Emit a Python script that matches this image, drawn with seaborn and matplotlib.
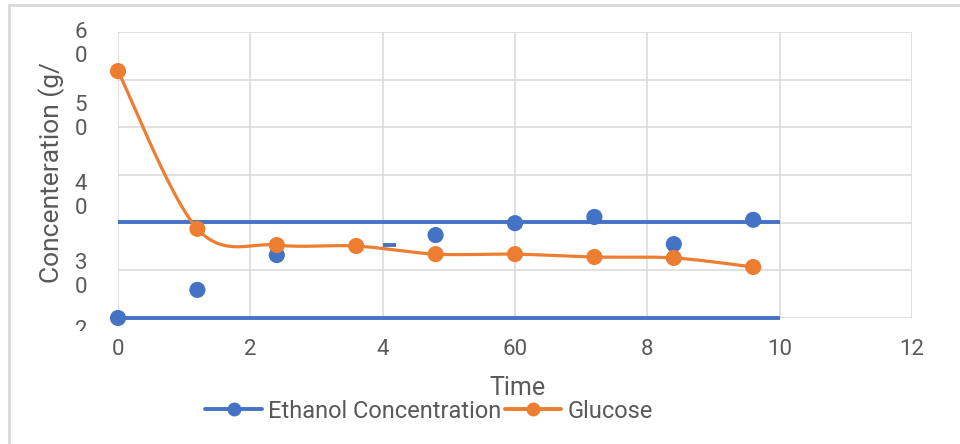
import numpy as np
import matplotlib
matplotlib.use("Agg")
import matplotlib.pyplot as plt
import seaborn as sns
from matplotlib.patches import Rectangle
from matplotlib.transforms import Bbox, TransformedBbox, blended_transform_factory
from matplotlib.lines import Line2D

# ---- data ----
time = [0, 1.2, 2.4, 3.6, 4.8, 6.0, 7.2, 8.4, 9.6]
glucose = [51.8, 18.7, 15.3, 15.1, 13.4, 13.4, 12.8, 12.6, 10.7]
ethanol_time = [0, 1.2, 2.4, 4.8, 6.0, 7.2, 8.4, 9.6]
ethanol = [0, 5.9, 13.2, 17.4, 19.9, 21.2, 15.5, 20.6]
ethanol_line_levels = [20.1, 0]
ethanol_line_span = [0, 10]
ethanol_dash_x = [4.0, 4.2]
ethanol_dash_y = [15.3, 15.3]
x_ticks = [0, 2, 4, 6, 8, 10, 12]
x_tick_labels = ["0", "2", "4", "60", "8", "10", "12"]
y_tick_labels = ["60", "50", "40", "30", "20"]
series_names = ["Ethanol Concentration", "Glucose"]

BLUE = "#4472C4"
ORANGE = "#ED7D31"
GREY = "#595959"
GRID = "#d9d9d9"

sns.set_theme(style="white")
plt.rcParams["font.family"] = ["Roboto", "DejaVu Sans"]

W, H = 960, 444
fig = plt.figure(figsize=(W / 100, H / 100), dpi=100)
fig.patch.set_facecolor("white")
ax = fig.add_axes([118 / W, 126 / H, 794 / W, 286 / H])

ax.set_xlim(0, 12)
ax.set_ylim(0, 60)
for s in ax.spines.values():
    s.set_visible(False)
ax.set_xticks(x_ticks)
ax.set_xticklabels(x_tick_labels, fontsize=16, color=GREY)
ax.set_yticks(np.arange(0, 61, 10))
ax.set_yticklabels([])
ax.tick_params(axis="both", length=0)
ax.tick_params(axis="x", pad=15)
ax.grid(True, color=GRID, lw=1.1)
ax.set_axisbelow(True)


def smooth(xs, ys, n=40):
    P = np.column_stack([xs, ys]).astype(float)
    out = []
    for i in range(len(P) - 1):
        p0 = P[i - 1] if i > 0 else P[i]
        p1, p2 = P[i], P[i + 1]
        p3 = P[i + 2] if i + 2 < len(P) else P[i + 1]
        c1 = p1 + (p2 - p0) / 6
        c2 = p2 - (p3 - p1) / 6
        t = np.linspace(0, 1, n)[:, None]
        seg = (1 - t) ** 3 * p1 + 3 * (1 - t) ** 2 * t * c1 + 3 * (1 - t) * t ** 2 * c2 + t ** 3 * p2
        out.append(seg if i == 0 else seg[1:])
    return np.vstack(out)


# ethanol (blue)
ax.hlines(ethanol_line_levels, ethanol_line_span[0], ethanol_line_span[1],
          color=BLUE, lw=2.8, clip_on=False, zorder=2)
ax.plot(ethanol_dash_x, ethanol_dash_y, color=BLUE, lw=2.8, solid_capstyle="butt", zorder=2)
sns.scatterplot(x=ethanol_time, y=ethanol, color=BLUE, s=135, edgecolor="none",
                ax=ax, zorder=3, clip_on=False, legend=False)

# glucose (orange)
curve = smooth(time, glucose)
ax.plot(curve[:, 0], curve[:, 1], color=ORANGE, lw=2.3, zorder=4, clip_on=False,
        solid_capstyle="round")
sns.scatterplot(x=time, y=glucose, color=ORANGE, s=135, edgecolor="none",
                ax=ax, zorder=5, clip_on=False, legend=False)

# broken, wrapped y tick labels
px2data = lambda py: (318 - py) / 286 * 60
label_py = [44.5, 117.5, 196.5, 275.5, 343]
tr = blended_transform_factory(fig.transFigure, ax.transData)
clip = TransformedBbox(Bbox([[0, 113 / H], [1, 1]]), fig.transFigure)
for lab, py in zip(y_tick_labels, label_py):
    t = fig.text(81 / W, px2data(py), "\n".join(lab), transform=tr, ha="center",
                 va="center", fontsize=16, color=GREY, linespacing=1.22)
    t.set_clip_box(clip)
    t.set_clip_on(True)

fig.text(52 / W, 1 - 173 / H, "Concenteration (g/", rotation=90, ha="center",
         va="center", fontsize=19, color=GREY)
fig.text(518 / W, 1 - 388 / H, "Time", ha="center", va="center", fontsize=18, color=GREY)

handles = [Line2D([], [], color=BLUE, lw=2.8, marker="o", ms=9),
           Line2D([], [], color=ORANGE, lw=2.8, marker="o", ms=9)]
fig.legend(handles, series_names, ncol=2, loc="center",
           bbox_to_anchor=(429 / W, 1 - 411 / H), frameon=False, handlelength=2.4,
           handletextpad=0.25, columnspacing=0.15, fontsize=17, labelcolor=GREY)

fig.patches.append(Rectangle((9 / W, -0.05), 1.0, 1 - 5 / H + 0.05, transform=fig.transFigure,
                             fill=False, ec=GRID, lw=2))

fig.savefig("out.png", dpi=100)
